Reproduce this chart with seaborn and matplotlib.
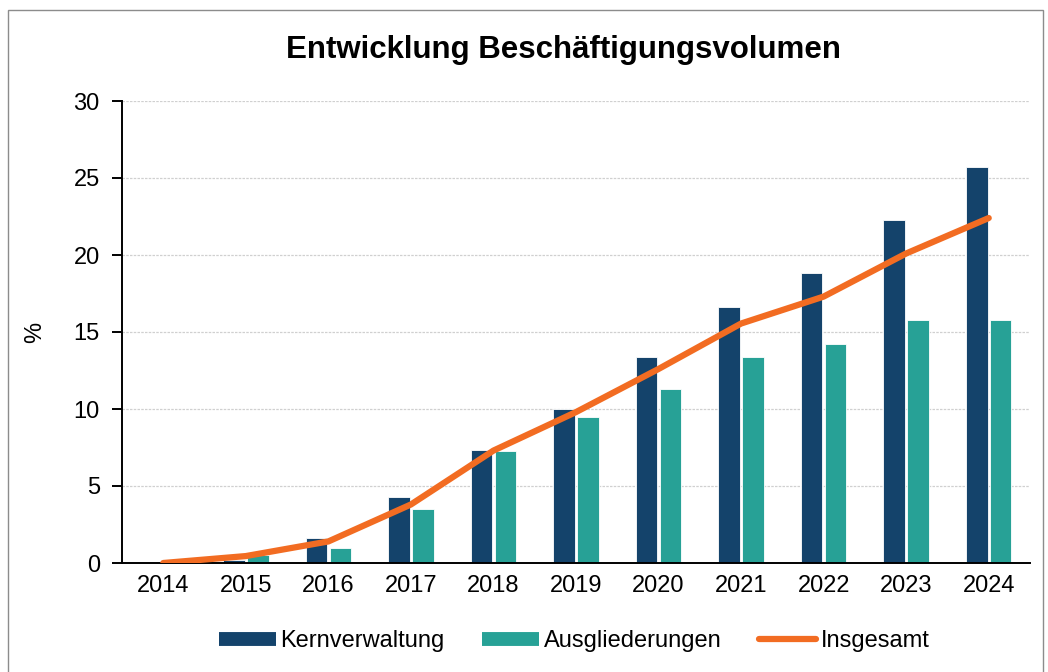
import matplotlib
matplotlib.use("Agg")
import matplotlib.pyplot as plt
import pandas as pd
import seaborn as sns
from matplotlib.patches import Rectangle
from matplotlib.lines import Line2D

# Data
years = ["2014", "2015", "2016", "2017", "2018", "2019", "2020", "2021", "2022", "2023", "2024"]
kernverwaltung = [0.0, 0.2, 1.6, 4.3, 7.35, 10.0, 13.35, 16.6, 18.85, 22.25, 25.7]
ausgliederungen = [0.0, 0.5, 1.0, 3.5, 7.3, 9.5, 11.3, 13.4, 14.2, 15.8, 15.8]
insgesamt = [0.0, 0.45, 1.4, 3.8, 7.3, 9.8, 12.6, 15.55, 17.3, 20.1, 22.4]

col_kern = "#14436b"
col_ausg = "#27a196"
col_ges = "#f26c22"

sns.set_theme(style="white")
plt.rcParams["font.family"] = ["Liberation Sans", "DejaVu Sans"]
plt.rcParams["text.color"] = "black"
plt.rcParams["xtick.color"] = "black"
plt.rcParams["ytick.color"] = "black"
plt.rcParams["axes.labelcolor"] = "black"

bars = pd.DataFrame({
    "Jahr": years * 2,
    "Wert": kernverwaltung + ausgliederungen,
    "Reihe": ["Kernverwaltung"] * len(years) + ["Ausgliederungen"] * len(years),
})

fig = plt.figure(figsize=(10.48, 6.72), dpi=100)
ax = fig.add_axes([122 / 1048, 1 - 563 / 672, 908 / 1048, 462 / 672])

sns.barplot(data=bars, x="Jahr", y="Wert", hue="Reihe",
            palette=[col_kern, col_ausg], saturation=1, width=0.58, gap=0.1,
            edgecolor="white", linewidth=0.6, legend=False, ax=ax, zorder=2)
ax.plot(range(len(years)), insgesamt, color=col_ges, lw=4.5,
        solid_capstyle="round", zorder=3)

ax.set_ylim(0, 30)
ax.set_xlim(-0.5, len(years) - 0.5)
ax.set_yticks(range(0, 31, 5))
ax.yaxis.grid(True, color="#d0d0d0", lw=0.9, ls=(0, (2, 1)))
ax.set_axisbelow(True)

for s in ["top", "right"]:
    ax.spines[s].set_visible(False)
for s in ["left", "bottom"]:
    ax.spines[s].set_color("black")
    ax.spines[s].set_linewidth(1.4)

# category boundaries as tick marks, labels in centre
ax.set_xticks([i - 0.5 for i in range(len(years) + 1)], minor=False)
ax.set_xticklabels([])
ax.set_xticks(range(len(years)), minor=True)
ax.set_xticklabels(years, minor=True)
ax.tick_params(axis="x", which="major", direction="out", length=7, width=1.4, color="black")
ax.tick_params(axis="x", which="minor", length=0, labelsize=17, pad=9)
ax.tick_params(axis="y", direction="out", length=7, width=1.4, color="black",
               labelsize=17, pad=9, left=True)

ax.set_xlabel("")
ax.set_ylabel("%", fontsize=17)
ax.yaxis.set_label_coords(-0.084, 0.5)

fig.text(0.538, 1 - 50 / 672, "Entwicklung Beschäftigungsvolumen",
         ha="center", va="center", fontsize=22.5, fontweight="bold")

handles = [
    Line2D([0], [0], color=col_kern, lw=10, solid_capstyle="butt"),
    Line2D([0], [0], color=col_ausg, lw=10, solid_capstyle="butt"),
    Line2D([0], [0], color=col_ges, lw=4.5, solid_capstyle="round"),
]
fig.legend(handles, ["Kernverwaltung", "Ausgliederungen", "Insgesamt"],
           loc="center", bbox_to_anchor=(0.548, 1 - 641 / 672), ncol=3,
           frameon=False, fontsize=17, handlelength=2.4, handletextpad=0.2,
           columnspacing=1.6)

fig.patches.append(Rectangle((8 / 1048, -0.05), 1035 / 1048, 1.05 - 10 / 672,
                             transform=fig.transFigure, fill=False,
                             edgecolor="#8c8c8c", lw=1))

fig.savefig("out.png", dpi=100)
